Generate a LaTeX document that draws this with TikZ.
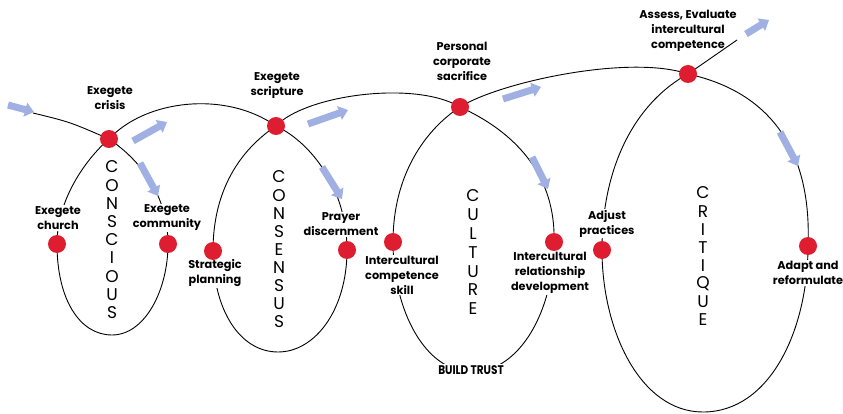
\documentclass[tikz,border=0pt]{standalone}
\usepackage{fontspec}
\usepackage{graphicx}
\setmainfont{Poppins}
\newfontfamily\thinfont{Poppins}
\usetikzlibrary{arrows.meta}
\definecolor{dotred}{RGB}{222,30,48}
\definecolor{arrblue}{RGB}{160,176,226}
\tikzset{
  curve/.style={line width=0.9pt, black},
  reddot/.style={circle, fill=dotred, minimum size=18pt, inner sep=0pt},
  lab/.style={font=\bfseries\fontsize{11.3}{15}\selectfont, align=center, fill=white, inner sep=1pt},
  vl/.style={font=\thinfont\fontsize{17}{17}\selectfont, inner sep=0pt},
  barrow/.style={draw=arrblue, line width=7pt, -{Triangle[width=14pt,length=9pt]}, arrblue},
}
\begin{document}
\begin{tikzpicture}[x=1pt,y=-1pt]
\useasboundingbox (0,0) rectangle (843,414);
% key points
\coordinate (start) at (33,113);
\coordinate (b1) at (112,335);
\coordinate (b2) at (278,352);
\coordinate (b3) at (472,372);
\coordinate (b4) at (703,412);
\coordinate (exit) at (737,40);
\coordinate (crisisP) at (109,139);
\coordinate (churchP) at (57,244);
\coordinate (communityP) at (168,244);
\coordinate (scriptureP) at (276,126);
\coordinate (strategicP) at (213,251);
\coordinate (prayerP) at (347,250);
\coordinate (sacrificeP) at (460,107);
\coordinate (competenceP) at (393,242);
\coordinate (relationP) at (554,242);
\coordinate (assessP) at (688,74);
\coordinate (adjustP) at (602,250);
\coordinate (adaptP) at (808,246);
% the continuous coil
\draw[curve] (start) .. controls (70,122) .. (crisisP)
  .. controls (140,160) and (168,195) .. (communityP)
  .. controls (168,290) and (145,335) .. (b1)
  .. controls (80,335) and (57,300) .. (churchP)
  .. controls (57,200) and (85,160) .. (crisisP)
  .. controls (145,100) and (225,90) .. (scriptureP)
  .. controls (312,143) and (347,190) .. (prayerP)
  .. controls (347,310) and (315,352) .. (b2)
  .. controls (240,352) and (213,310) .. (strategicP)
  .. controls (213,190) and (240,150) .. (scriptureP)
  .. controls (305,95) and (415,80) .. (sacrificeP)
  .. controls (515,132) and (556,175) .. (relationP)
  .. controls (554,310) and (520,372) .. (b3)
  .. controls (425,372) and (393,310) .. (competenceP)
  .. controls (393,175) and (425,130) .. (sacrificeP)
  .. controls (500,82) and (630,54) .. (assessP)
  .. controls (770,92) and (812,150) .. (adaptP)
  .. controls (808,330) and (770,412) .. (b4)
  .. controls (640,412) and (602,330) .. (adjustP)
  .. controls (602,160) and (640,100) .. (assessP)
  -- (exit);
% labels
\node[lab] (lcrisis) at (110,98) {Exegete\\crisis};
\node[lab] (lchurch) at (58,218) {Exegete\\church};
\node[lab] (lcommunity) at (167,218) {Exegete\\community};
\node[lab] (lscripture) at (277,85.5) {Exegete\\scripture};
\node[lab] (lprayer) at (341,224.5) {Prayer\\discernment};
\node[lab] (lstrategic) at (215,273) {Strategic\\planning};
\node[lab] (lsacrifice) at (462,61) {Personal\\corporate\\sacrifice};
\node[lab] (lcompetence) at (402,275) {Intercultural\\competence\\skill};
\node[lab] (lrelation) at (550,273) {Intercultural\\relationship\\development};
\node[lab, fill=none] (lassess) at (688,30.5) {Assess, Evaluate\\intercultural\\competence};
\node[lab] (ladjust) at (607,223.5) {Adjust\\practices};
\node[lab] (ladapt) at (808,273) {Adapt and\\reformulate};
\node[fill=white, inner sep=1.5pt, font=\bfseries\fontsize{12.5}{14}\selectfont] (ltrust) at (471,370) {\scalebox{0.84}[1]{BUILD TRUST}};
% red dots
\node[reddot] (crisis) at (crisisP) {};
\node[reddot] (church) at (churchP) {};
\node[reddot] (community) at (communityP) {};
\node[reddot] (scripture) at (scriptureP) {};
\node[reddot] (strategic) at (strategicP) {};
\node[reddot] (prayer) at (prayerP) {};
\node[reddot] (sacrifice) at (sacrificeP) {};
\node[reddot] (competence) at (competenceP) {};
\node[reddot] (relation) at (relationP) {};
\node[reddot] (assess) at (assessP) {};
\node[reddot] (adjust) at (adjustP) {};
\node[reddot] (adapt) at (adaptP) {};
% vertical words
\foreach \l [count=\i] in {C,O,N,S,C,I,O,U,S}
  \node[vl] (wa\i) at (112,{167+18.2*(\i-1)}) {\l};
\foreach \l [count=\i] in {C,O,N,S,E,N,S,U,S}
  \node[vl] (wb\i) at (279,{177+18.1*(\i-1)}) {\l};
\foreach \l [count=\i] in {C,U,L,T,U,R,E}
  \node[vl] (wc\i) at (473,{196+18.8*(\i-1)}) {\l};
\foreach \l [count=\i] in {C,R,I,T,I,Q,U,E}
  \node[vl] (wd\i) at (703,{193+18.1*(\i-1)}) {\l};
% blue arrows
\coordinate (a1s) at (8,105); \coordinate (a1e) at (34,112);
\coordinate (a2s) at (133,141); \coordinate (a2e) at (167,122);
\coordinate (a3s) at (140,163); \coordinate (a3e) at (158,196);
\coordinate (a4s) at (308,124); \coordinate (a4e) at (348,110);
\coordinate (a5s) at (322,167); \coordinate (a5e) at (342,199);
\coordinate (a6s) at (503,99); \coordinate (a6e) at (541,87);
\coordinate (a7s) at (532,157); \coordinate (a7e) at (548,189);
\coordinate (a8s) at (780,132); \coordinate (a8e) at (798,166);
\coordinate (a9s) at (746,34); \coordinate (a9e) at (769,20);
\foreach \k in {1,...,9}
  \draw[barrow] (a\k s) -- (a\k e);
\end{tikzpicture}
\end{document}
